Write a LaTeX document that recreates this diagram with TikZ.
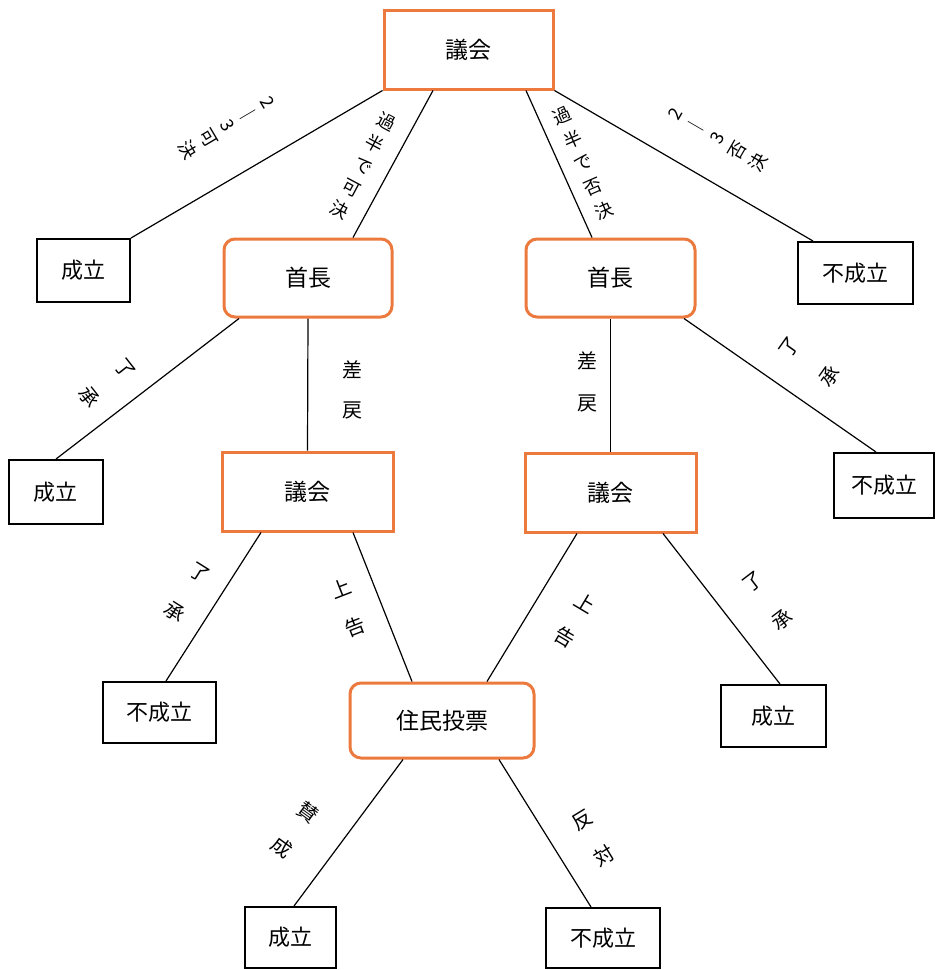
\documentclass[tikz,border=0pt]{standalone}
\usepackage{fontspec}
\newfontfamily\jp{Noto Sans CJK JP}
\definecolor{orng}{RGB}{236,122,62}
\newcommand\vlab[7]{%
  \begin{scope}[shift={(#1,#2)},rotate=#3,transform shape]
    \foreach \c [count=\i] in {#6} {
      \node[lab] (#7-\i) at (0,{(\i-1-(#5-1)/2)*#4}) {\c};
    }
  \end{scope}}
\begin{document}
\begin{tikzpicture}[x=1pt,y=-1pt,
  obox/.style={draw=orng,line width=3pt,inner sep=0pt,font=\jp\fontsize{23}{23}\selectfont},
  rbox/.style={obox,rounded corners=11pt},
  kbox/.style={draw=black,line width=2pt,inner sep=0pt,font=\jp\fontsize{22}{22}\selectfont},
  lab/.style={inner sep=0pt,font=\jp\fontsize{20}{20}\selectfont},
  slab/.style={lab,font=\jp\fontsize{18}{18}\selectfont},
  conn/.style={draw=black,line width=1.2pt}]
\fill[white] (0,0) rectangle (937,970);
\useasboundingbox (0,0) rectangle (937,970);

% boxes
\node[obox,minimum width=169pt,minimum height=79pt] (g0) at (468.5,49.5) {議会};
\node[kbox,minimum width=93pt,minimum height=63pt] (s1) at (83.5,270.5) {成立};
\node[rbox,minimum width=168pt,minimum height=78pt] (c1) at (308,278) {首長};
\node[rbox,minimum width=169pt,minimum height=78pt] (c2) at (610.5,278) {首長};
\node[kbox,minimum width=115pt,minimum height=62pt] (n1) at (855.5,273) {不成立};
\node[kbox,minimum width=94pt,minimum height=64pt] (s2) at (56,492) {成立};
\node[obox,minimum width=171pt,minimum height=79pt] (g1) at (307.5,491.5) {議会};
\node[obox,minimum width=171pt,minimum height=79pt] (g2) at (610.5,492.5) {議会};
\node[kbox,minimum width=100pt,minimum height=65pt] (n2) at (884,485.5) {不成立};
\node[kbox,minimum width=113pt,minimum height=61pt] (n3) at (159.5,712.5) {不成立};
\node[rbox,minimum width=184pt,minimum height=75pt] (v) at (442,720.5) {住民投票};
\node[kbox,minimum width=105pt,minimum height=62pt] (s3) at (773.5,716) {成立};
\node[kbox,minimum width=91pt,minimum height=61pt] (s4) at (290.5,937.5) {成立};
\node[kbox,minimum width=114pt,minimum height=60pt] (n4) at (603,938) {不成立};

% connectors
\draw[conn] (g0.south west) -- (s1.north east);
\draw[conn] ([xshift=-35.5pt]g0.south) -- ([xshift=45pt]c1.north);
\draw[conn] ([xshift=57.5pt]g0.south) -- ([xshift=-18.5pt]c2.north);
\draw[conn] (g0.south east) -- ([xshift=-42.5pt]n1.north);
\draw[conn] ([xshift=-69pt]c1.south) -- (s2.north);
\draw[conn] (c1.south) -- (g1.north);
\draw[conn] (c2.south) -- (g2.north);
\draw[conn] ([xshift=73.5pt]c2.south) -- ([xshift=-8pt]n2.north);
\draw[conn] ([xshift=-46.5pt]g1.south) -- ([xshift=6.5pt]n3.north);
\draw[conn] ([xshift=45.5pt]g1.south) -- ([xshift=-30pt]v.north);
\draw[conn] ([xshift=-33.5pt]g2.south) -- ([xshift=45pt]v.north);
\draw[conn] ([xshift=52.5pt]g2.south) -- ([xshift=6.5pt]s3.north);
\draw[conn] ([xshift=-39pt]v.south) -- ([xshift=3.5pt]s4.north);
\draw[conn] ([xshift=57pt]v.south) -- ([xshift=-12pt]n4.north);

% labels
\tikzset{lab/.style={inner sep=0pt,font=\jp\fontsize{18}{18}\selectfont}}
\vlab{228}{126}{-59.4}{23}{5}{2,｜,3,可,決}{la}
\vlab{363}{166}{-28.1}{25}{5}{過,半,で,可,決}{lb}
\vlab{583}{163}{23.7}{26}{5}{過,半,で,否,決}{lc}
\vlab{717}{138}{59.9}{24}{5}{2,｜,3,否,決}{ld}
\tikzset{lab/.style={inner sep=0pt,font=\jp\fontsize{20}{20}\selectfont}}
\vlab{107}{383}{-51.8}{46}{2}{了,承}{le}
\vlab{352}{390}{0}{40}{2}{差,戻}{lf}
\vlab{587}{382}{0}{43}{2}{差,戻}{lg}
\vlab{810}{362}{54.7}{49}{2}{了,承}{lh}
\vlab{187}{592}{-32.2}{46}{2}{了,承}{li}
\vlab{348}{608}{21.2}{41}{2}{上,告}{lj}
\vlab{575}{620}{-30.8}{39}{2}{上,告}{lk}
\vlab{768}{601}{37.4}{48}{2}{了,承}{ll}
\vlab{295}{830}{-36.2}{44}{2}{賛,成}{lm}
\vlab{593}{838}{31.5}{42}{2}{反,対}{ln}
\end{tikzpicture}
\end{document}
